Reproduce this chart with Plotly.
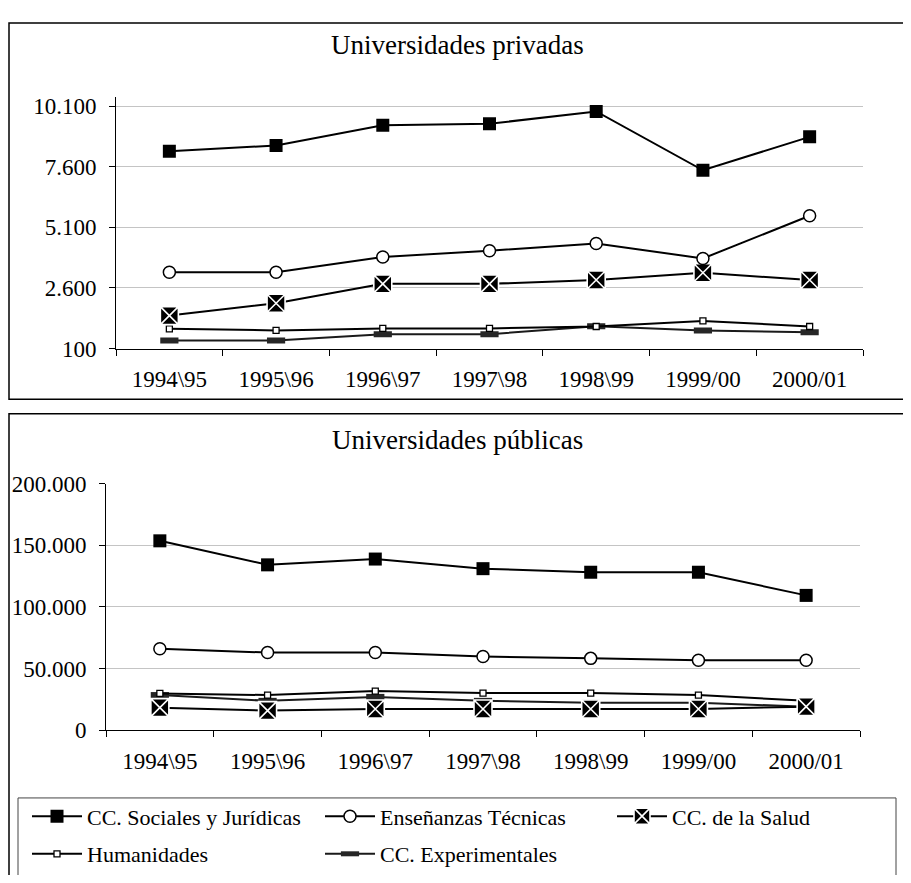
import plotly.graph_objects as go

# The page body has an 8px default margin: size the figure so that it fills the 911x883 window.
OFF = 8
W, H = 911 - 2 * OFF, 883 - 2 * OFF

categories = ["1994\\95", "1995\\96", "1996\\97", "1997\\98", "1998\\99", "1999/00", "2000/01"]

# Universidades privadas
priv_sociales = [8250, 8480, 9320, 9380, 9890, 7460, 8840]
priv_tecnicas = [3250, 3250, 3880, 4140, 4440, 3820, 5580]
priv_salud = [1460, 1970, 2770, 2770, 2930, 3230, 2930]
priv_humanidades = [915, 850, 930, 930, 1010, 1240, 1010]
priv_experimentales = [435, 435, 690, 690, 1020, 850, 770]
priv_ticks = [100, 2600, 5100, 7600, 10100]

# Universidades públicas
pub_sociales = [153600, 134100, 138800, 131000, 128100, 128100, 109300]
pub_tecnicas = [66000, 62900, 62900, 59700, 58200, 56600, 56600]
pub_salud = [18200, 15800, 17100, 17100, 17100, 17100, 19000]
pub_humanidades = [29700, 28400, 31600, 30000, 30000, 28400, 23700]
pub_experimentales = [28400, 23700, 26900, 23700, 22100, 22100, 19000]
pub_ticks = [0, 50000, 100000, 150000, 200000]

names = ["CC. Sociales y Jurídicas", "Enseñanzas Técnicas", "CC. de la Salud",
         "Humanidades", "CC. Experimentales"]

styles = [
    dict(marker=dict(symbol="square", size=13, color="black", line=dict(width=0)),
         line=dict(color="black", width=2)),
    dict(marker=dict(symbol="circle", size=12, color="white", line=dict(color="black", width=1.5)),
         line=dict(color="black", width=2)),
    dict(marker=dict(symbol="square-x", size=18, color="black", line=dict(color="white", width=1.6)),
         line=dict(color="black", width=2)),
    dict(marker=dict(symbol="square", size=6, color="white", line=dict(color="black", width=1.3)),
         line=dict(color="black", width=2)),
    dict(marker=dict(symbol="line-ew", size=13, color="#262626", line=dict(color="#262626", width=6)),
         line=dict(color="#1a1a1a", width=2)),
]

priv = [priv_sociales, priv_tecnicas, priv_salud, priv_humanidades, priv_experimentales]
pub = [pub_sociales, pub_tecnicas, pub_salud, pub_humanidades, pub_experimentales]
legend_ids = ["legend", "legend2", "legend3", "legend4", "legend5"]


def px_x(p):
    return (p - OFF) / W


def px_y(p):
    return 1 - (p - OFF) / H


fig = go.Figure()
for i in [4, 3, 2, 1, 0]:
    fig.add_trace(go.Scatter(x=categories, y=priv[i], mode="lines+markers", name=names[i],
                             xaxis="x", yaxis="y", showlegend=False, **styles[i]))
for i in [4, 3, 2, 1, 0]:
    fig.add_trace(go.Scatter(x=categories, y=pub[i], mode="lines+markers", name=names[i],
                             xaxis="x2", yaxis="y2", legend=legend_ids[i], **styles[i]))

FONT = "Liberation Serif"
tickfont = dict(family=FONT, size=23, color="black")

xcommon = dict(type="category", range=[-0.5, 6.5], showline=True, linecolor="black", linewidth=1,
               ticks="outside", ticklen=6, tickcolor="black", tickson="boundaries",
               showgrid=False, zeroline=False, tickfont=tickfont, ticklabelstandoff=10)
ycommon = dict(showline=True, linecolor="black", linewidth=1, ticks="outside", ticklen=6,
               tickcolor="black", showgrid=True, gridcolor="#c4c4c4", gridwidth=1,
               zeroline=False, tickfont=tickfont, tickformat=",d", ticklabelstandoff=8)

# legend columns (page x of the line sample start) and rows (page y)
leg_cols = [30, 323, 615, 30, 323]
leg_rows = [829, 829, 829, 868, 868]
legend_layout = {}
for k, lid in enumerate(legend_ids):
    legend_layout[lid] = dict(x=px_x(leg_cols[k] - 3), y=px_y(leg_rows[k]), xanchor="left",
                              yanchor="middle", orientation="h", itemwidth=50,
                              bgcolor="rgba(0,0,0,0)",
                              font=dict(family=FONT, size=22, color="black"))

fig.update_layout(
    width=W, height=H,
    margin=dict(l=0, r=0, t=0, b=0),
    paper_bgcolor="white", plot_bgcolor="white",
    separators=",.",
    font=dict(family=FONT, color="black"),
    xaxis=dict(domain=[px_x(116), px_x(863)], anchor="y", **xcommon),
    yaxis=dict(domain=[px_y(346.7), px_y(87)], anchor="x", range=[100, 10500],
               tickvals=priv_ticks, **ycommon),
    xaxis2=dict(domain=[px_x(106), px_x(860)], anchor="y2", **xcommon),
    yaxis2=dict(domain=[px_y(740), px_y(486)], anchor="x2", range=[0, 200000],
                tickvals=pub_ticks, **ycommon),
    annotations=[
        dict(text="Universidades privadas", x=px_x(457), y=px_y(34), xref="paper", yref="paper",
             showarrow=False, font=dict(family=FONT, size=27, color="black"),
             xanchor="center", yanchor="middle"),
        dict(text="Universidades públicas", x=px_x(457), y=px_y(441), xref="paper", yref="paper",
             showarrow=False, font=dict(family=FONT, size=27, color="black"),
             xanchor="center", yanchor="middle"),
    ],
    shapes=[
        dict(type="rect", xref="paper", yref="paper", x0=px_x(9), x1=px_x(904),
             y0=px_y(399), y1=px_y(11), line=dict(color="black", width=1.5)),
        dict(type="rect", xref="paper", yref="paper", x0=px_x(9), x1=px_x(930),
             y0=px_y(920), y1=px_y(414), line=dict(color="black", width=1.5)),
        dict(type="rect", xref="paper", yref="paper", x0=px_x(18), x1=px_x(896),
             y0=px_y(920), y1=px_y(810), line=dict(color="#444444", width=1)),
    ],
    **legend_layout,
)

fig.write_html("out.html")
